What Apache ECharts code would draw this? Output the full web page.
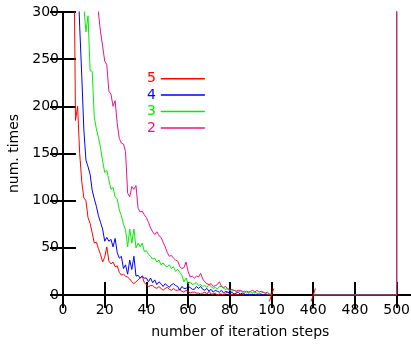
<!DOCTYPE html>
<html>
<head>
<meta charset="utf-8">
<script src="https://cdn.jsdelivr.net/npm/echarts@6/dist/echarts.min.js"></script>
<style>
  html, body { margin: 0; padding: 0; background: #fff; }
  #chart { width: 411px; height: 345px; }
</style>
</head>
<body>
<div id="chart"></div>
<script>
// Iteration counts: how many runs needed a given number of iteration steps.
// Each head series starts at its own first step and continues one step at a time up to 100.
const firstStep5 = 5;
const counts5 = [420, 185, 200, 150, 120, 103, 100, 82, 76, 66, 55, 56, 49, 43, 35, 40, 51, 36, 33, 35,
  30, 31, 24, 21, 22, 20, 19, 17, 14, 12, 14, 16, 18, 20, 13, 11, 9, 10, 10, 8,
  7, 9, 7, 5, 7, 8, 6, 5, 7, 5, 5, 6, 4, 3, 5, 4, 2, 3, 3, 2,
  2, 1, 2, 3, 1, 4, 1, 1, 2, 0, 1, 1, 0, 2, 3, 1, 0, 0, 1, 0,
  0, 0, 1, 0, 0, 0, 0, 1, 0, 0, 0, 0, 0, 0, 0, 0];

const firstStep4 = 7;
const counts4 = [345, 285, 232, 175, 143, 136, 128, 111, 102, 94, 84, 77, 70, 57, 61, 57, 59, 51, 60, 45,
  39, 41, 28, 32, 22, 37, 27, 41, 20, 21, 18, 20, 18, 18, 14, 18, 13, 16, 11, 14,
  12, 9, 12, 10, 8, 11, 12, 10, 9, 5, 9, 7, 7, 9, 8, 6, 6, 9, 7, 9,
  6, 5, 7, 4, 6, 3, 5, 4, 3, 5, 2, 4, 3, 2, 3, 1, 2, 3, 1, 2,
  1, 0, 1, 0, 1, 0, 0, 1, 0, 0, 0, 0];

const firstStep3 = 9;
const counts3 = [420, 305, 279, 296, 238, 237, 189, 176, 167, 156, 142, 130, 132, 122, 112, 114, 104, 102, 90, 84,
  75, 69, 51, 70, 55, 70, 50, 55, 51, 55, 46, 47, 43, 41, 38, 39, 35, 37, 32, 34,
  31, 30, 32, 28, 30, 25, 27, 24, 21, 14, 18, 12, 14, 11, 12, 13, 10, 11, 9, 10,
  8, 11, 9, 7, 8, 6, 9, 9, 7, 6, 7, 5, 4, 5, 4, 3, 4, 3, 4, 2,
  3, 2, 3, 3, 2, 1, 2, 3, 2, 1, 1, 0];

const firstStep2 = 16;
const counts2 = [380, 299, 279, 264, 248, 244, 216, 213, 200, 206, 182, 166, 161, 160, 152, 108, 104, 115, 112, 116,
  92, 88, 89, 85, 82, 77, 71, 67, 64, 67, 63, 61, 56, 51, 45, 41, 42, 39, 37, 36,
  30, 28, 29, 35, 25, 19, 20, 18, 20, 19, 23, 17, 14, 12, 11, 12, 9, 10, 11, 14,
  9, 8, 9, 6, 5, 6, 5, 4, 5, 5, 4, 3, 4, 3, 4, 5, 3, 5, 3, 4,
  3, 2, 3, 1, 1];

// Tail of the run: nothing until the step cap at 500, where the unfinished runs pile up.
const tailSteps = [460, 480, 500, 500];
const tail5 = [0, 0, 0, 900];
const tail4 = [0, 0, 0, 900];
const tail3 = [0, 0, 0, 900];
const tail2 = [0, 0, 0, 900];

const seriesNames = ['5', '4', '3', '2'];
const seriesColors = ['#ff0000', '#0000ff', '#00ee00', '#e8148c'];

// Broken x axis: 100 ... 460 is squeezed into one 20-step slot.
const breakStart = 100;
const breakEnd = 460;
const breakSlot = 20;
const breakShift = breakEnd - breakStart - breakSlot;
const toAxis = s => (s <= breakStart ? s : s - breakShift);
const fromAxis = v => (v <= breakStart ? v : v + breakShift);

function buildData(firstStep, counts, tail) {
  const out = counts.map((c, i) => [toAxis(firstStep + i), c]);
  out.push([toAxis(breakStart) + 1, null]);
  tailSteps.forEach((s, i) => out.push([toAxis(s), tail[i]]));
  return out;
}

const FONT = 'DejaVu Sans';
const chart = echarts.init(document.getElementById('chart'), null, { renderer: 'canvas' });

const axisLine = { show: true, lineStyle: { color: '#000', width: 2 } };
const axisTick = { show: true, inside: true, length: 13, lineStyle: { color: '#000', width: 2 } };

const heads = [
  buildData(firstStep5, counts5, tail5),
  buildData(firstStep4, counts4, tail4),
  buildData(firstStep3, counts3, tail3),
  buildData(firstStep2, counts2, tail2)
];

const option = {
  animation: false,
  backgroundColor: '#fff',
  grid: { left: 63, top: 12, width: 354.5, height: 283, containLabel: false, outerBoundsMode: 'none' },
  legend: {
    orient: 'vertical',
    left: 142,
    top: 65.5,
    align: 'right',
    icon: 'rect',
    itemWidth: 44,
    itemHeight: 1.5,
    itemGap: 0,
    selectedMode: false,
    textStyle: { fontFamily: FONT, fontSize: 14, lineHeight: 16.4 },
    data: seriesNames.map((n, i) => ({ name: n, textStyle: { color: seriesColors[i] } }))
  },
  xAxis: [
    {
      type: 'value', min: 0, max: 170, interval: 20, position: 'bottom',
      name: 'number of iteration steps', nameLocation: 'middle', nameGap: 30,
      nameTextStyle: { fontFamily: FONT, fontSize: 14, color: '#000' },
      axisLine, axisTick, splitLine: { show: false },
      axisLabel: {
        fontFamily: FONT, fontSize: 14, color: '#000', margin: 8,
        formatter: v => (v % 20 === 0 && v <= 160 ? String(fromAxis(v)) : '')
      }
    },
    {
      type: 'value', min: 0, max: 170, interval: 20, position: 'top',
      axisLine, axisTick, splitLine: { show: false }, axisLabel: { show: false }
    }
  ],
  yAxis: [
    {
      type: 'value', min: 0, max: 300, interval: 50, position: 'left',
      name: 'num. times', nameLocation: 'middle', nameGap: 41, nameRotate: 90,
      nameTextStyle: { fontFamily: FONT, fontSize: 14, color: '#000' },
      axisLine, axisTick, splitLine: { show: false },
      axisLabel: { fontFamily: FONT, fontSize: 14, color: '#000', margin: 4 }
    },
    {
      type: 'value', min: 0, max: 300, interval: 50, position: 'right',
      axisLine, axisTick, splitLine: { show: false }, axisLabel: { show: false }
    }
  ],
  series: heads.map((d, i) => ({
    name: seriesNames[i],
    type: 'line',
    xAxisIndex: 0,
    yAxisIndex: 0,
    data: d,
    showSymbol: false,
    symbol: 'none',
    connectNulls: false,
    clip: true,
    color: seriesColors[i],
    lineStyle: { width: 1, color: seriesColors[i] },
    z: 3 + i
  })).concat([{
    // slash marks where the x axis is cut
    type: 'custom',
    xAxisIndex: 0,
    yAxisIndex: 0,
    data: [[toAxis(breakStart), 0], [toAxis(breakEnd), 0]],
    clip: false,
    z: 20,
    silent: true,
    renderItem: (params, api) => {
      const p = api.coord([api.value(0), api.value(1)]);
      return {
        type: 'line',
        shape: { x1: p[0] - 2.2, y1: p[1] + 6.5, x2: p[0] + 2.2, y2: p[1] - 6.5 },
        style: { stroke: '#ff0000', lineWidth: 1 }
      };
    }
  }])
};

chart.setOption(option);
</script>
</body>
</html>
